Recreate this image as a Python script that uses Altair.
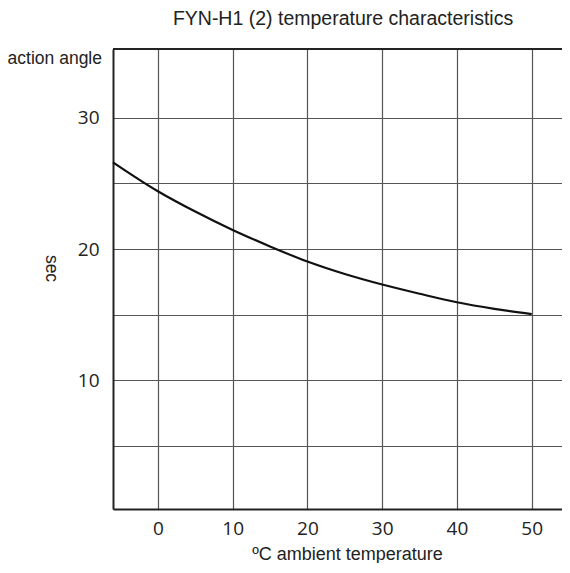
import altair as alt
import pandas as pd

# Data
temps = [-6, 0, 5, 10, 15, 20, 25, 30, 35, 40, 45, 50]
secs = [26.6, 24.4, 22.85, 21.45, 20.2, 19.05, 18.1, 17.3, 16.6, 15.95, 15.45, 15.05]

x_ticks = [0, 10, 20, 30, 40, 50]
y_ticks = [5, 10, 15, 20, 25, 30]

title_text = "FYN-H1 (2) temperature characteristics"
x_title = "ºC ambient temperature"
y_title = "sec"
corner_label = "action angle"

W, H = 449, 460
SANS = "Liberation Sans"
NUM = "Open Sans"

df = pd.DataFrame({"t": temps, "s": secs})

xscale = alt.Scale(domain=[-6, 54.05], nice=False, zero=False)
yscale = alt.Scale(domain=[0.22, 35.22], nice=False, zero=False)

line = alt.Chart(df).mark_line(color="#111", strokeWidth=2.2, interpolate="monotone").encode(
    x=alt.X("t:Q", scale=xscale,
            axis=alt.Axis(values=x_ticks, title=x_title, grid=True, gridColor="#555", gridWidth=1.2,
                          ticks=False, domain=True, domainColor="#222", domainWidth=2,
                          labelFont=NUM, labelFontSize=19, labelColor="#222", labelPadding=19,
                          labelBaseline="middle",
                          titleFont=SANS, titleFontSize=18, titleFontWeight="normal", titleColor="#222",
                          titleX=234, titleY=50, titleBaseline="alphabetic", titleAlign="center")),
    y=alt.Y("s:Q", scale=yscale,
            axis=alt.Axis(values=y_ticks, title=y_title, grid=True, gridColor="#555", gridWidth=1.2,
                          ticks=False, domain=True, domainColor="#222", domainWidth=2,
                          labelExpr="datum.value % 10 == 0 ? datum.label : ''",
                          labelFont=NUM, labelFontSize=19, labelColor="#222", labelPadding=14,
                          titleFont=SANS, titleFontSize=17.5, titleFontWeight="normal", titleColor="#222",
                          titleAngle=90, titleX=-63, titleY=219, titleBaseline="middle", titleAlign="center")),
)

top_border = alt.Chart(df).mark_rule(color="#222", strokeWidth=2).encode(
    x=alt.value(0), x2=alt.value(W), y=alt.value(0)
)

corner = alt.Chart(pd.DataFrame({"txt": [corner_label]})).mark_text(
    font=SANS, fontSize=17.5, color="#222", align="right", baseline="middle"
).encode(x=alt.value(-11), y=alt.value(10), text="txt:N")

title = alt.Chart(pd.DataFrame({"txt": [title_text]})).mark_text(
    font=SANS, fontSize=19.5, color="#222", align="center", baseline="middle"
).encode(x=alt.value(230), y=alt.value(-30), text="txt:N")

chart = alt.layer(line, top_border, corner, title).properties(
    width=W, height=H,
    autosize=alt.AutoSizeParams(type="none"),
    padding={"left": 105, "top": 41, "right": 0, "bottom": 54},
).configure_view(stroke=None).configure(background="white")

chart.save("out.html", embed_options={"renderer": "svg", "actions": False})
